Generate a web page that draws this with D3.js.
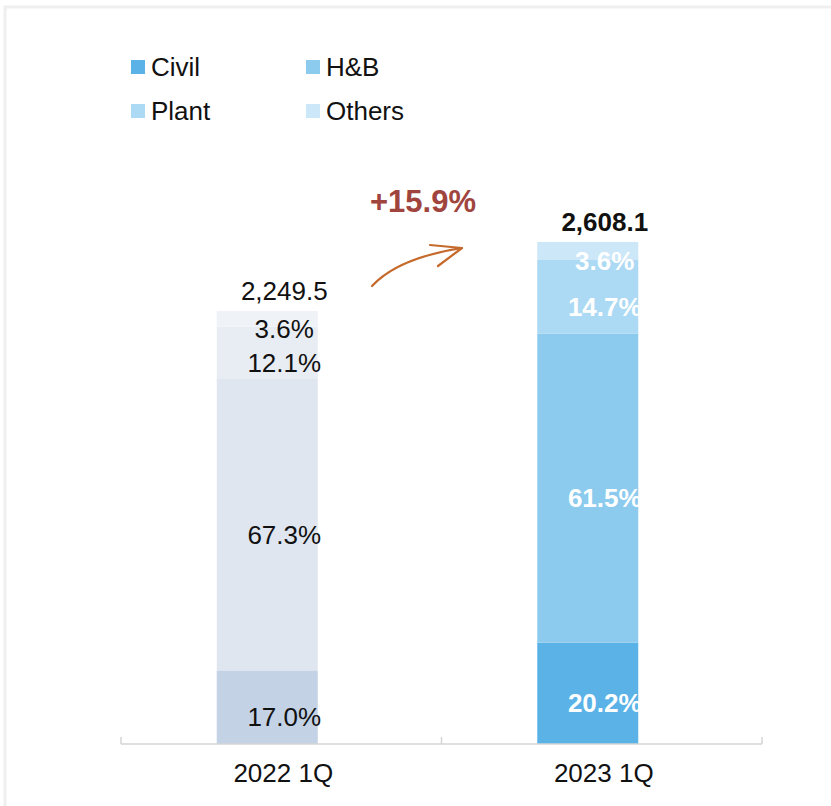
<!DOCTYPE html>
<html>
<head>
<meta charset="utf-8">
<script src="https://cdn.jsdelivr.net/npm/d3@7"></script>
<style>
  html, body { margin: 0; padding: 0; background: #ffffff; }
  svg { display: block; font-family: "Liberation Sans", Arial, sans-serif; }
</style>
</head>
<body>
<svg id="chart" width="831" height="806"></svg>
<script>
// ---- data ----
const categories = ["2022 1Q", "2023 1Q"];
const series = ["Civil", "H&B", "Plant", "Others"];
const totals = [2249.5, 2608.1];
const civilPct = [17.0, 20.2];
const hbPct = [67.3, 61.5];
const plantPct = [12.1, 14.7];
const othersPct = [3.6, 3.6];
const growthLabel = "+15.9%";
const totalLabels = ["2,249.5", "2,608.1"];

// ---- styles ----
const activeColors = ["#5ab2e7", "#8ccbee", "#acd9f3", "#cce7f8"];
const fadedColors = ["#c3d2e5", "#dfe6f0", "#e8edf4", "#eff3f8"];

const svg = d3.select("#chart");

// frame
svg.append("rect").attr("x", 5).attr("y", 7).attr("width", 900).attr("height", 900)
  .attr("fill", "none").attr("stroke", "#efefef").attr("stroke-width", 3);

const x = d3.scaleBand().domain(categories).range([121, 762]).padding(0);
const y = d3.scaleLinear().domain([0, 2700]).range([744, 744 - 2700 * 0.1925]);
const barW = 101;
const fs = 26;

const pctSeries = [civilPct, hbPct, plantPct, othersPct];

categories.forEach((cat, ci) => {
  const bandC = x(cat) + x.bandwidth() / 2;
  const bx = bandC - 64.5;
  const active = ci === categories.length - 1;
  let cum = 0;
  const g = svg.append("g");
  series.forEach((s, si) => {
    const val = totals[ci] * pctSeries[si][ci] / 100;
    const y0 = y(cum), y1 = y(cum + val);
    g.append("rect")
      .attr("x", bx).attr("y", y1).attr("width", barW).attr("height", y0 - y1)
      .attr("fill", active ? activeColors[si] : fadedColors[si]);
    cum += val;
  });
  cum = 0;
  series.forEach((s, si) => {
    const val = totals[ci] * pctSeries[si][ci] / 100;
    const mid = (y(cum) + y(cum + val)) / 2;
    g.append("text")
      .attr("x", bandC + 3).attr("y", mid + 10)
      .attr("dy", "0.35em")
      .attr("text-anchor", "middle")
      .attr("font-size", fs)
      .attr("font-weight", active ? "bold" : "normal")
      .attr("fill", active ? "#ffffff" : "#111111")
      .text(pctSeries[si][ci].toFixed(1) + "%");
    cum += val;
  });
  svg.append("text")
    .attr("x", bandC + 3).attr("y", y(totals[ci]) - 20)
    .attr("dy", "0.35em")
    .attr("text-anchor", "middle")
    .attr("font-size", fs)
    .attr("font-weight", active ? "bold" : "normal")
    .attr("fill", "#111111")
    .text(totalLabels[ci]);
});

// axis
const axisG = svg.append("g").attr("transform", "translate(0,744)");
axisG.append("line").attr("x1", 121).attr("x2", 762).attr("y1", 0).attr("y2", 0)
  .attr("stroke", "#d4d4d4").attr("stroke-width", 1.5);
const tickXs = [x.range()[0]].concat(categories.map(c => x(c) + x.bandwidth()));
tickXs.forEach(tx => {
  axisG.append("line").attr("x1", tx).attr("x2", tx).attr("y1", 0).attr("y2", -7)
    .attr("stroke", "#d4d4d4").attr("stroke-width", 1.5);
});
categories.forEach(cat => {
  axisG.append("text")
    .attr("x", x(cat) + x.bandwidth() / 2 + 2).attr("y", 29)
    .attr("dy", "0.35em")
    .attr("text-anchor", "middle")
    .attr("font-size", fs)
    .attr("fill", "#111111")
    .text(cat);
});

// legend
const legendPos = [[131, 67], [306, 67], [131, 111], [306, 111]];
series.forEach((s, si) => {
  const [lx, ly] = legendPos[si];
  svg.append("rect").attr("x", lx).attr("y", ly - 7).attr("width", 14).attr("height", 14)
    .attr("fill", activeColors[si]);
  svg.append("text").attr("x", lx + 20).attr("y", ly).attr("dy", "0.35em")
    .attr("font-size", fs).attr("fill", "#111111").text(s);
});

// growth label + arrow
svg.append("text").attr("x", 423).attr("y", 201).attr("dy", "0.35em")
  .attr("text-anchor", "middle").attr("font-size", 31).attr("font-weight", "bold")
  .attr("fill", "#a0443e").text(growthLabel);
const arrowColor = "#c5692c";
svg.append("path").attr("d", "M372,286 Q398,258 462,248")
  .attr("fill", "none").attr("stroke", arrowColor).attr("stroke-width", 2.2).attr("stroke-linecap", "round");
svg.append("path").attr("d", "M430,245 L462,248 L438,266")
  .attr("fill", "none").attr("stroke", arrowColor).attr("stroke-width", 2.2)
  .attr("stroke-linecap", "round").attr("stroke-linejoin", "round");
</script>
</body>
</html>
